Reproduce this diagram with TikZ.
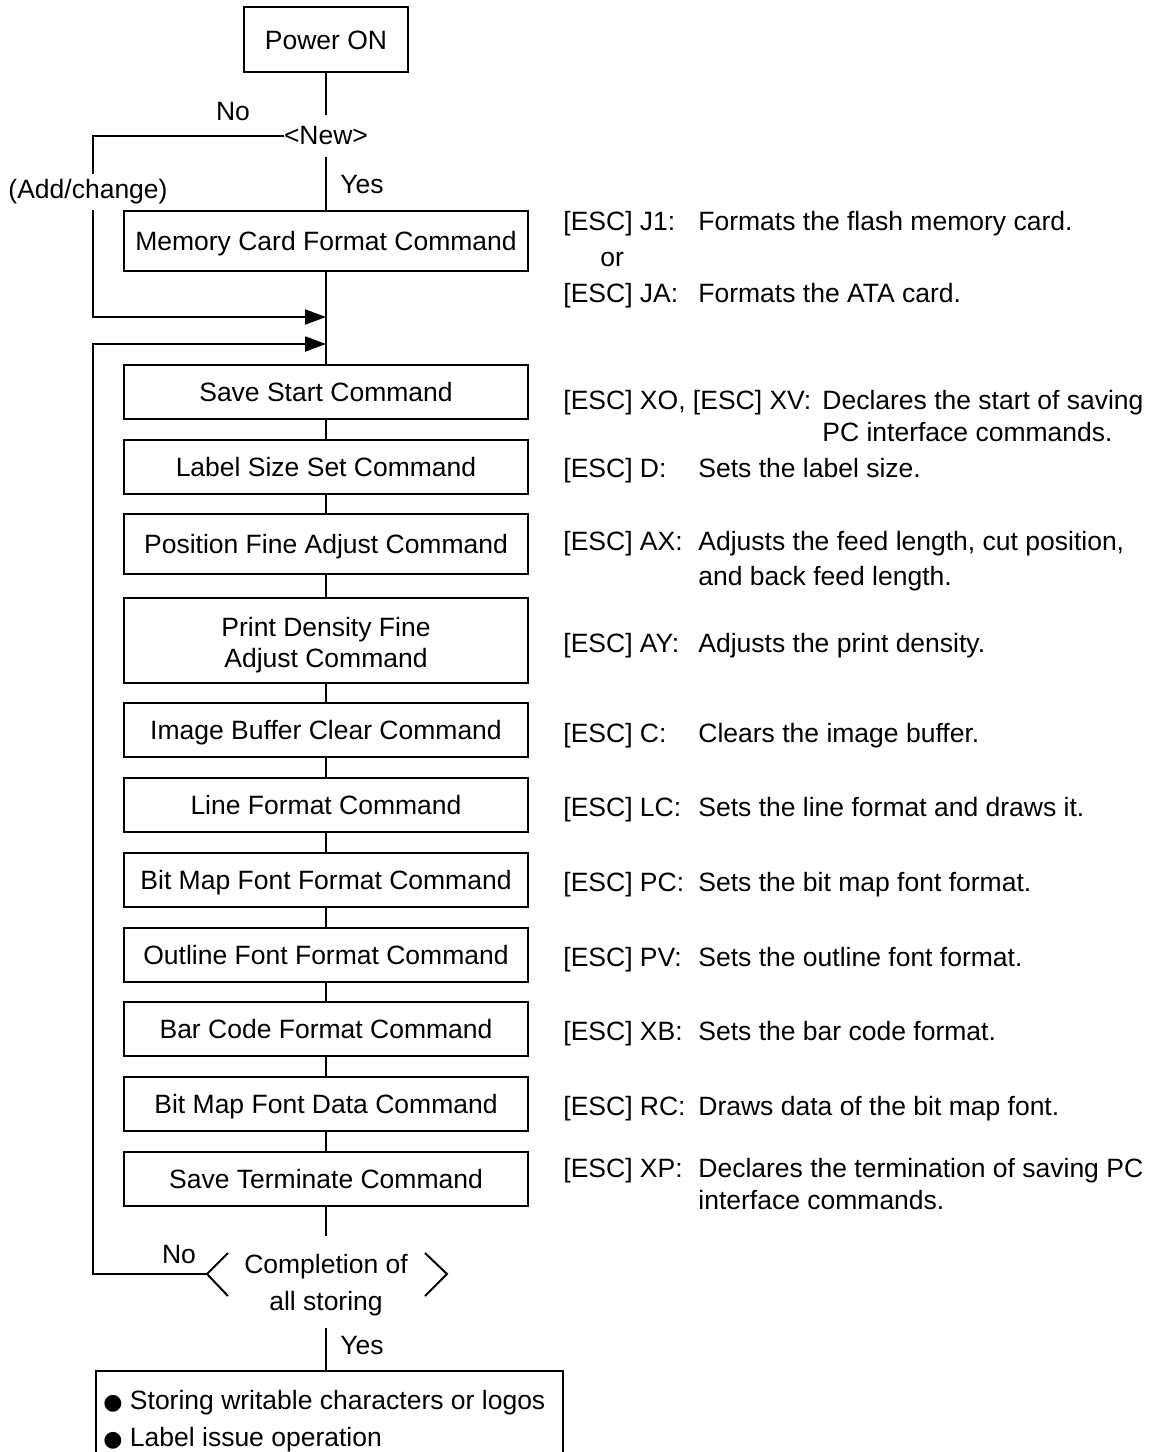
\documentclass[tikz,border=0pt]{standalone}
\usepackage{fontspec}
\setmainfont{Liberation Sans}
\newfontfamily\symfont{DejaVu Sans}
\usetikzlibrary{arrows.meta}
\newcommand{\blt}{{\fontsize{11}{11}\symfont ●}}
\begin{document}
\begin{tikzpicture}[x=0.5pt,y=-0.5pt,
  every node/.style={font=\fontsize{13.25}{16}\selectfont, inner sep=0pt},
  line/.style={line width=1pt},
  cmd/.style={draw, line width=1pt, minimum width=202pt, minimum height=27pt, align=center},
  cmdone/.style={cmd, text height=9.5pt, text depth=0pt},
  arr/.style={line, -{Triangle[length=10.5pt,width=7.5pt]}},
  tag/.style={anchor=base west},
  desc/.style={anchor=base west},
]
\clip (0,0) rectangle (1160,1452);

% ---- flow boxes ----
\node[cmdone, minimum width=82pt, minimum height=32.5pt] (pwr) at (326,39.5) {Power ON};
\node[minimum height=21pt] (new) at (326,136) {<New>};
\node (no1) at (233,112) {No};
\node (yes1) at (362,185) {Yes};
\node[cmdone, minimum height=30pt] (mem) at (326,241) {Memory Card Format Command};
\coordinate (m1) at (326,317);
\coordinate (m2) at (326,344);
\node[cmdone] (ss) at (326,392) {Save Start Command};
\node[cmdone] (ls) at (326,467) {Label Size Set Command};
\node[cmdone, minimum height=30pt] (pf) at (326,544) {Position Fine Adjust Command};
\node[cmd, minimum height=42.5pt, font=\fontsize{13.25}{15.5}\selectfont] (pd) at (326,640.5)
  {\rule{0pt}{14.5pt}Print Density Fine\\Adjust Command};
\node[cmdone] (ib) at (326,730) {Image Buffer Clear Command};
\node[cmdone] (lf) at (326,805) {Line Format Command};
\node[cmdone] (bf) at (326,880) {Bit Map Font Format Command};
\node[cmdone] (of) at (326,955) {Outline Font Format Command};
\node[cmdone] (bc) at (326,1029) {Bar Code Format Command};
\node[cmdone] (bd) at (326,1104) {Bit Map Font Data Command};
\node[cmdone] (st) at (326,1179) {Save Terminate Command};

% ---- decision: completion of all storing ----
\node[minimum width=120pt, minimum height=46pt, align=center,
      font=\fontsize{13.25}{18.5}\selectfont] (dec) at (326,1282)
  {\rule{0pt}{13pt}Completion of\\all storing};
\draw[line] (228,1253) -- (207,1274) -- (228,1296);
\draw[line] (425,1253) -- (447,1274) -- (425,1296);
\coordinate (decL) at (207,1274);
\node (no2) at (179,1254) {No};
\node (yes2) at (362,1345) {Yes};

% ---- final box ----
\node[draw, line width=1pt, anchor=north west, minimum width=233.5pt, minimum height=60pt] (fin) at (95,1370) {};
\node[anchor=base west] (fin1) at (103,1409.5) {\blt\ Storing writable characters or logos};
\node[anchor=base west] (fin2) at (103,1446.5) {\blt\ Label issue operation};

% ---- connectors ----
\draw[line] (pwr) -- (new);
\draw[line] (new) -- (mem);
\draw[line] (mem) -- (ss);
\foreach \a/\b in {ss/ls, ls/pf, pf/pd, pd/ib, ib/lf, lf/bf, bf/of, of/bc, bc/bd, bd/st}
  \draw[line] (\a) -- (\b);
\draw[line] (st) -- (dec);
\draw[line] (dec.south) -- (dec.south |- fin.north);

% "No" branch of <New>, broken around its (Add/change) label
\node[minimum height=18pt] (addch) at (88,192) {(Add/change)};
\coordinate (la) at (93,136);
\coordinate (lb) at (93,317);
\draw[line] (new.west) -- (la) -- (la |- addch.north);
\draw[arr] (la |- addch.south) -- (lb) -- (m1);

% loop back from the completion check
\coordinate (lc) at (93,1274);
\coordinate (ld) at (93,344);
\draw[arr] (decL) -- (lc) -- (ld) -- (m2);

% ---- command descriptions ----
\node[tag] (tj1) at (563,230) {[ESC] J1:};
\node[desc] (dj1) at (698,230) {Formats the flash memory card.};
\node[tag] (tor) at (600,266) {or};
\node[tag] (tja) at (563,302) {[ESC] JA:};
\node[desc] (dja) at (698,302) {Formats the ATA card.};
\node[tag] (txo) at (563,409.5) {[ESC] XO, [ESC] XV:};
\node[desc] (dxo) at (822,409.5) {Declares the start of saving};
\node[desc] (dxo2) at (822,441.5) {PC interface commands.};
\node[tag] (td) at (563,477.5) {[ESC] D:};
\node[desc] (dd) at (698,477.5) {Sets the label size.};
\node[tag] (tax) at (563,550.5) {[ESC] AX:};
\node[desc] (dax) at (698,550.5) {Adjusts the feed length, cut position,};
\node[desc] (dax2) at (698,585.5) {and back feed length.};
\node[tag] (tay) at (563,652.5) {[ESC] AY:};
\node[desc] (day) at (698,652.5) {Adjusts the print density.};
\node[tag] (tc) at (563,742.5) {[ESC] C:};
\node[desc] (dc) at (698,742.5) {Clears the image buffer.};
\node[tag] (tlc) at (563,816.5) {[ESC] LC:};
\node[desc] (dlc) at (698,816.5) {Sets the line format and draws it.};
\node[tag] (tpc) at (563,891.5) {[ESC] PC:};
\node[desc] (dpc) at (698,891.5) {Sets the bit map font format.};
\node[tag] (tpv) at (563,966.5) {[ESC] PV:};
\node[desc] (dpv) at (698,966.5) {Sets the outline font format.};
\node[tag] (txb) at (563,1040.5) {[ESC] XB:};
\node[desc] (dxb) at (698,1040.5) {Sets the bar code format.};
\node[tag] (trc) at (563,1115.5) {[ESC] RC:};
\node[desc] (drc) at (698,1115.5) {Draws data of the bit map font.};
\node[tag] (txp) at (563,1177.5) {[ESC] XP:};
\node[desc] (dxp) at (698,1177.5) {Declares the termination of saving PC};
\node[desc] (dxp2) at (698,1209.5) {interface commands.};
\end{tikzpicture}
\end{document}
